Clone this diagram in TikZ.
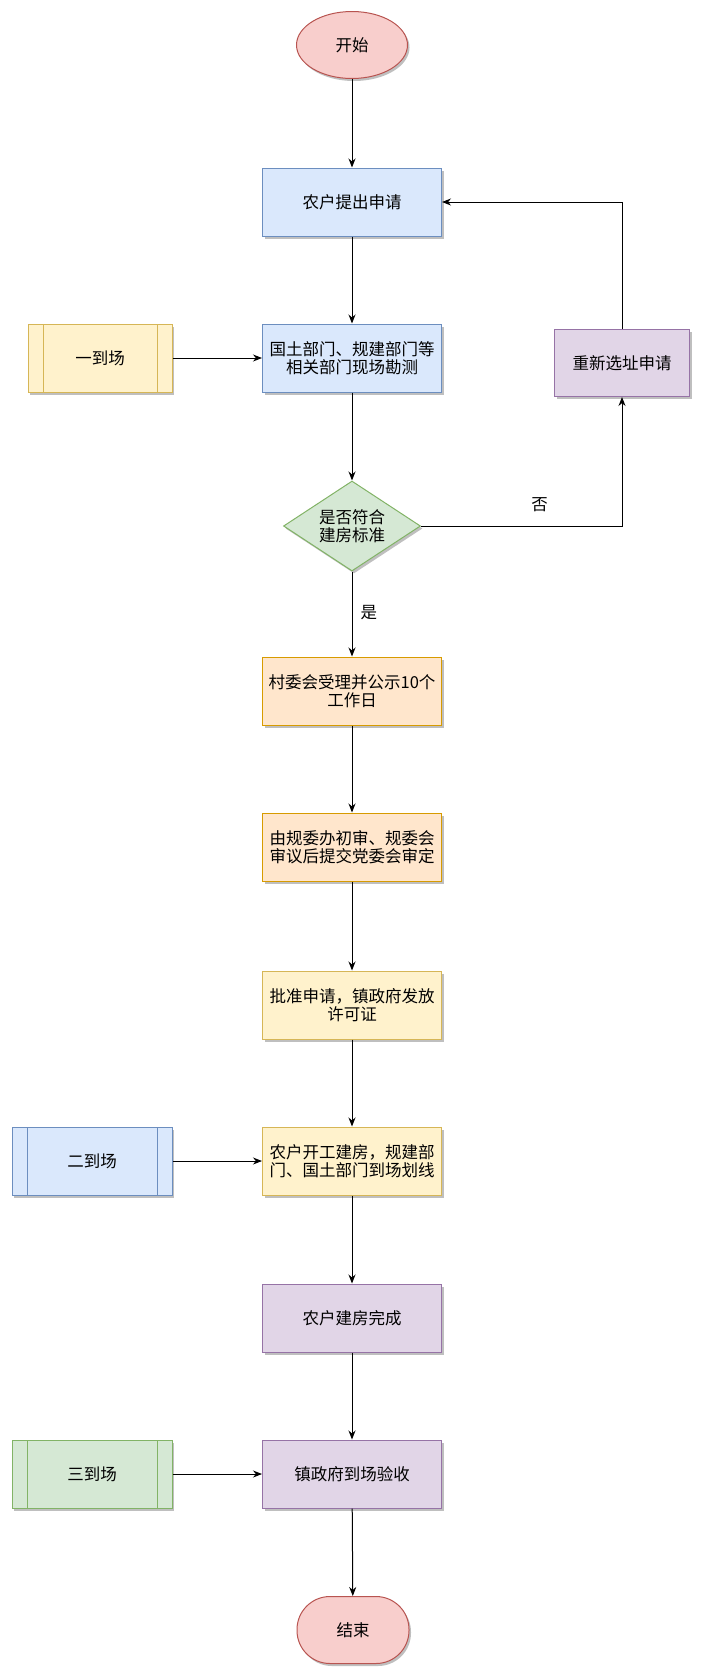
\documentclass[tikz,border=0pt]{standalone}
\usepackage{fontspec}
\usepackage{tikz}
\usepackage{xcolor}
\usetikzlibrary{shapes.geometric,arrows.meta,shadows}
\newfontfamily\cjk{Noto Sans CJK SC}

\definecolor{bluefill}{HTML}{DAE8FC}
\definecolor{bluedraw}{HTML}{6C8EBF}
\definecolor{yellowfill}{HTML}{FFF2CC}
\definecolor{yellowdraw}{HTML}{D6B656}
\definecolor{greenfill}{HTML}{D5E8D4}
\definecolor{greendraw}{HTML}{82B366}
\definecolor{orangefill}{HTML}{FFE6CC}
\definecolor{orangedraw}{HTML}{D79B00}
\definecolor{purplefill}{HTML}{E1D5E7}
\definecolor{purpledraw}{HTML}{9673A6}
\definecolor{redfill}{HTML}{F8CECC}
\definecolor{reddraw}{HTML}{B85450}

\begin{document}
\begin{tikzpicture}[x=1pt,y=-1pt,
  every node/.style={font=\cjk\fontsize{16.5}{18.5}\selectfont},
  shade/.style={drop shadow={shadow xshift=2pt,shadow yshift=-2.5pt,fill=black,opacity=0.25}},
  box/.style 2 args={rectangle,fill=#1,draw=#2,line width=1pt,minimum width=179pt,
    minimum height=68pt,inner sep=0pt,align=center,shade},
  visit/.style n args={3}{rectangle,fill=#1,draw=#2,line width=1pt,minimum width=#3,
    minimum height=68pt,inner sep=0pt,shade,
    path picture={\draw[#2,line width=1pt]
      ([xshift=15pt]path picture bounding box.north west) -- ([xshift=15pt]path picture bounding box.south west)
      ([xshift=-15pt]path picture bounding box.north east) -- ([xshift=-15pt]path picture bounding box.south east);}},
  lbl/.style={inner sep=0pt},
  arr/.style={-{Stealth[length=9pt,width=7pt]},line width=1pt}]
\useasboundingbox (0,0) rectangle (703,1679);

% main column
\node[ellipse,fill=redfill,draw=reddraw,line width=1pt,minimum width=111pt,minimum height=67pt,inner sep=0pt,shade]
  (start) at (352,45) {开始};
\node[box={bluefill}{bluedraw}] (apply) at (352,202) {农户提出申请};
\node[box={bluefill}{bluedraw}] (survey) at (352,358) {国土部门、规建部门等\\相关部门现场勘测};
\node[diamond,aspect=1.52,fill=greenfill,draw=greendraw,line width=1pt,minimum width=137pt,minimum height=90pt,
  inner sep=0pt,align=center,shade] (check) at (352,526) {是否符合\\建房标准};
\node[box={orangefill}{orangedraw}] (publish) at (352,691) {村委会受理并公示10个\\工作日};
\node[box={orangefill}{orangedraw}] (review) at (352,847) {由规委办初审、规委会\\审议后提交党委会审定};
\node[box={yellowfill}{yellowdraw}] (permit) at (352,1005) {批准申请，镇政府发放\\许可证};
\node[box={yellowfill}{yellowdraw}] (build) at (352,1161) {农户开工建房，规建部\\门、国土部门到场划线};
\node[box={purplefill}{purpledraw}] (done) at (352,1318) {农户建房完成};
\node[box={purplefill}{purpledraw}] (accept) at (352,1474) {镇政府到场验收};
\node[rectangle,rounded corners=33pt,fill=redfill,draw=reddraw,line width=1pt,minimum width=112pt,minimum height=67pt,
  inner sep=0pt,shade] (stop) at (353,1630) {结束};

% side boxes
\node[visit={yellowfill}{yellowdraw}{144pt}] (first) at (100,358) {一到场};
\node[visit={bluefill}{bluedraw}{160pt}] (second) at (92,1161) {二到场};
\node[visit={greenfill}{greendraw}{160pt}] (third) at (92,1474) {三到场};
\node[rectangle,fill=purplefill,draw=purpledraw,line width=1pt,minimum width=135pt,minimum height=67pt,inner sep=0pt,shade]
  (redo) at (622,363) {重新选址申请};

% connectors
\draw[arr] (start) -- (apply);
\draw[arr] (apply) -- (survey);
\draw[arr] (first) -- (survey);
\draw[arr] (survey) -- (check);
\draw[arr] (check) -- node[lbl,pos=0.48,right=8pt] {是} (publish);
\draw[arr] (check.east) -- node[lbl,pos=0.59,above=14pt] {否} (check.east -| redo.south) -- (redo.south);
\draw[arr] (redo.north) |- (apply.east);
\draw[arr] (publish) -- (review);
\draw[arr] (review) -- (permit);
\draw[arr] (permit) -- (build);
\draw[arr] (second) -- (build);
\draw[arr] (build) -- (done);
\draw[arr] (done) -- (accept);
\draw[arr] (third) -- (accept);
\draw[arr] (accept) -- (stop);
\end{tikzpicture}
\end{document}
